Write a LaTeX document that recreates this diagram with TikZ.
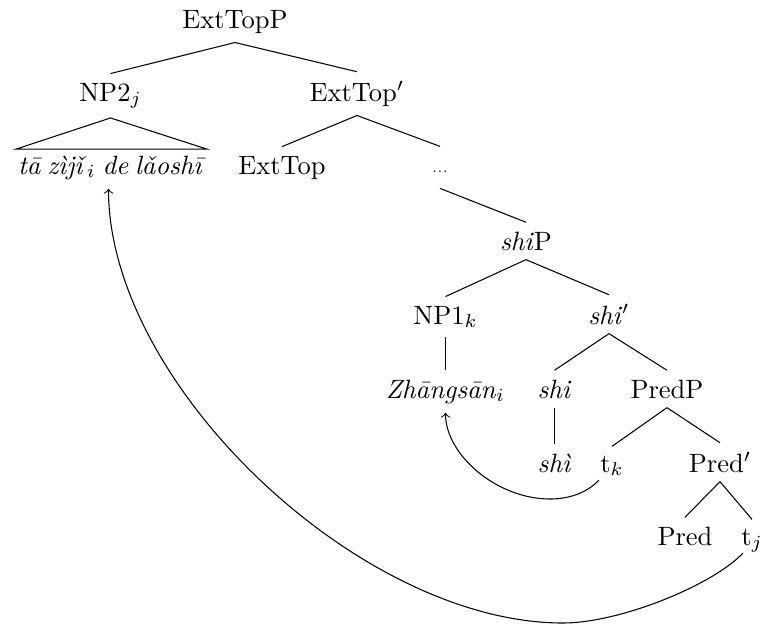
\documentclass[tikz,border=0pt]{standalone}
\begin{document}
\begin{tikzpicture}[x=0.3774pt,y=-0.3774pt,
  lab/.style={anchor=base, inner sep=3.33pt},
  br/.style={line width=0.4pt},
  mv/.style={line width=0.4pt,->}]
\useasboundingbox (0,0) rectangle (765,626);
% level 1
\node[lab] (etp) at (235,28) {ExtTopP};
% level 2
\node[lab] (np2) at (110.5,101) {NP2$_j$};
\node[lab] (etb) at (357,101) {ExtTop$'$};
% level 3
\node[lab] (tri) at (112,174) {\textit{tā\hspace{2.6pt}zìjǐ}$_i$\hspace{2.6pt}\textit{de\hspace{2.6pt}lǎoshī}};
\node[lab] (et) at (282,174) {ExtTop};
\node[lab,text height=6.15pt,text depth=2.65pt] (dots) at (440,172) {\tiny...};
% level 4
\node[lab] (shiP) at (526,250) {\textit{shi}P};
% level 5
\node[lab] (np1) at (445.5,324) {NP1$_k$};
\node[lab] (shib) at (609,324) {\textit{shi}$'$};
% level 6
\node[lab] (zh) at (445.5,398) {\textit{Zhāngsān}$_i$};
\node[lab] (shi) at (554.5,398) {\textit{shi}};
\node[lab] (predP) at (667,398) {PredP};
% level 7
\node[lab] (shii) at (554.5,472) {\textit{shì}};
\node[lab] (tk) at (612,472) {t$_k$};
\node[lab] (predb) at (720,472) {Pred$'$};
% level 8
\node[lab] (pred) at (685,545) {Pred};
\node[lab] (tj) at (752,545) {t$_j$};
% branches
\draw[br] (etp.south) -- (np2.north);
\draw[br] (etp.south) -- (etb.north);
\draw[br] (np2.south) -- ([shift={(7,3)}]tri.north west) -- ([shift={(-8,3)}]tri.north east) -- cycle;
\draw[br] (etb.south) -- (et.north);
\draw[br] (etb.south) -- (dots.north);
\draw[br] (dots.south) -- (shiP.north);
\draw[br] (shiP.south) -- (np1.north);
\draw[br] (shiP.south) -- (shib.north);
\draw[br] (np1.south) -- (zh.north);
\draw[br] (shib.south) -- (shi.north);
\draw[br] (shib.south) -- (predP.north);
\draw[br] (shi.south) -- (shii.north);
\draw[br] (predP.south) -- (tk.north);
\draw[br] (predP.south) -- (predb.north);
\draw[br] (predb.south) -- (pred.north);
\draw[br] (predb.south) -- (tj.north);
% movement arrows
\draw[mv] ([shift={(-13,8)}]tk.base) .. controls (585,495) and (565,499) .. (550,499)
  .. controls (497,499) and (445.5,455) .. (zh.south);
\draw[mv] ([shift={(-9,8)}]tj.base) .. controls (713,585) and (620,623) .. (563,623)
  .. controls (359,623) and (108.5,384) .. ([shift={(-3.5,0)}]tri.south);
\end{tikzpicture}
\end{document}
